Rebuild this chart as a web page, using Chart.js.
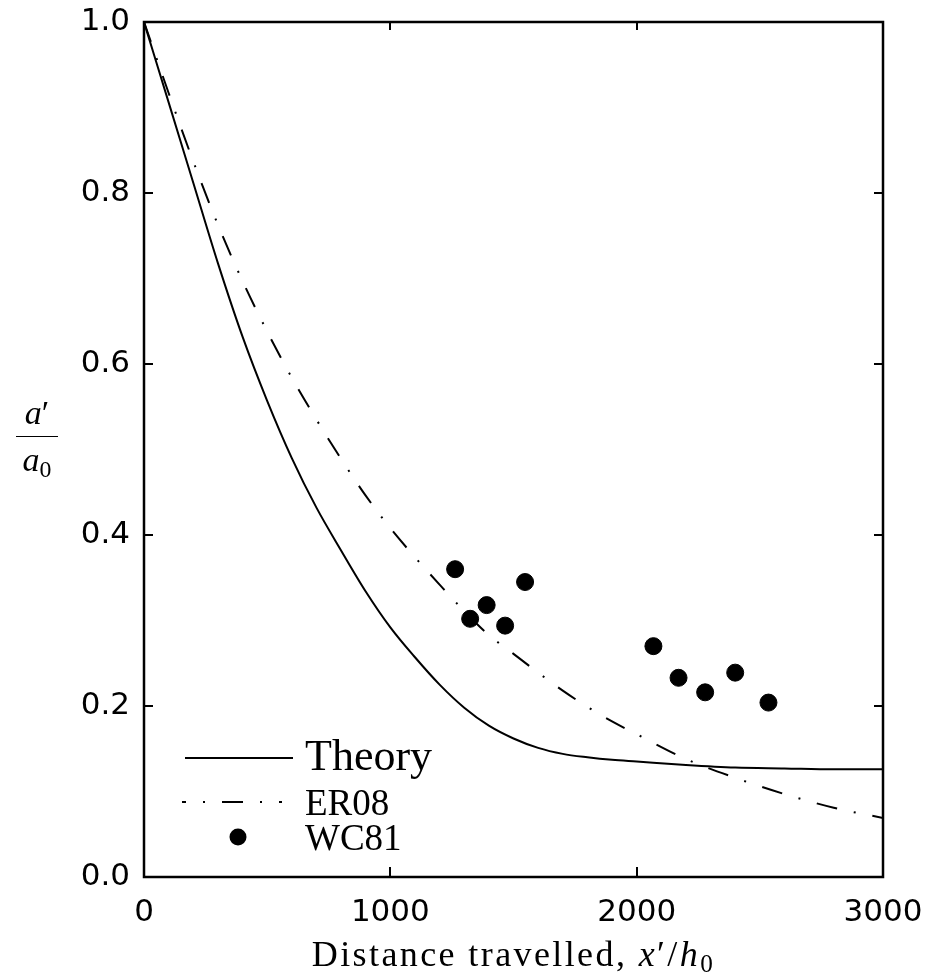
<!DOCTYPE html>
<html>
<head>
<meta charset="utf-8">
<script src="https://cdn.jsdelivr.net/npm/chart.js@4/dist/chart.umd.min.js"></script>
<style>
  html, body { margin: 0; padding: 0; background: #fff; }
  #wrap { position: relative; width: 931px; height: 980px; }
  canvas { position: absolute; left: 0; top: 0; }
  .ttl { position: absolute; font-family: "Liberation Serif", "DejaVu Serif", serif; color: #000; white-space: nowrap; }
  #xtitle { left: 0; width: 1027px; text-align: center; top: 933px; font-size: 36px; letter-spacing: 2.4px; }
  #yfrac { left: 16px; top: 396px; width: 42px; text-align: center; font-size: 34px; line-height: 1; }
  #yfrac .num { display: block; padding-bottom: 6px; border-bottom: 1.6px solid #000; }
  #yfrac .den { display: block; padding-top: 6px; }
  i { font-style: italic; }
  sub { font-size: 0.7em; vertical-align: -0.25em; font-style: normal; }
</style>
</head>
<body>
<div id="wrap">
  <canvas id="c" width="931" height="980"></canvas>
  <div id="yfrac" class="ttl"><span class="num"><i>a</i>′</span><span class="den"><i>a</i><sub>0</sub></span></div>
  <div id="xtitle" class="ttl">Distance travelled, <i>x</i>′/<i>h</i><sub>0</sub></div>
</div>
<script>
// ---- data ----
const curveX = [0, 100, 200, 300, 400, 500, 600, 700, 800, 900, 1000, 1100, 1200, 1300, 1400, 1500, 1600, 1700, 1800, 1900, 2000, 2200, 2400, 2600, 2800, 3000];
const theoryY = [1.0, 0.906, 0.812, 0.718, 0.632, 0.557, 0.490, 0.432, 0.382, 0.334, 0.292, 0.257, 0.225, 0.198, 0.177, 0.162, 0.151, 0.144, 0.140, 0.137, 0.135, 0.131, 0.128, 0.127, 0.126, 0.126];
const er08Y = [1.0, 0.917, 0.837, 0.763, 0.697, 0.638, 0.584, 0.535, 0.489, 0.446, 0.408, 0.374, 0.342, 0.311, 0.283, 0.261, 0.239, 0.218, 0.199, 0.182, 0.167, 0.138, 0.116, 0.097, 0.081, 0.069];
const wc81X = [1263, 1547, 1391, 1324, 1466, 2068, 2170, 2278, 2400, 2535];
const wc81Y = [0.360, 0.345, 0.318, 0.302, 0.294, 0.270, 0.233, 0.216, 0.239, 0.204];
const xTickValues = [0, 1000, 2000, 3000];
const yTickValues = [0, 0.2, 0.4, 0.6, 0.8, 1.0];
const seriesNames = ["Theory", "ER08", "WC81"];

const ER08_DASH = [21, 17, 2, 17];

const framePlugin = {
  id: 'frame',
  afterDatasetsDraw(chart) {
    const ctx = chart.ctx;
    const a = chart.chartArea;
    const xs = chart.scales.x, ys = chart.scales.y;
    ctx.save();
    ctx.strokeStyle = '#000';
    ctx.lineWidth = 2.5;
    ctx.strokeRect(a.left, a.top, a.right - a.left, a.bottom - a.top);
    ctx.lineWidth = 2;
    ctx.beginPath();
    yTickValues.slice(1, -1).forEach(v => {
      const p = Math.round(ys.getPixelForValue(v));
      ctx.moveTo(a.left, p); ctx.lineTo(a.left + 9, p);
      ctx.moveTo(a.right, p); ctx.lineTo(a.right - 9, p);
    });
    xTickValues.slice(1, -1).forEach(v => {
      const p = Math.round(xs.getPixelForValue(v));
      ctx.moveTo(p, a.bottom); ctx.lineTo(p, a.bottom - 10);
      ctx.moveTo(p, a.top); ctx.lineTo(p, a.top + 8);
    });
    ctx.stroke();

    // legend
    const lx0 = a.left + 41, lx1 = a.left + 149, tx = a.left + 161;
    ctx.fillStyle = '#000';
    ctx.textBaseline = 'alphabetic';
    ctx.textAlign = 'left';
    ctx.lineWidth = 2;
    ctx.setLineDash([]);
    ctx.beginPath();
    ctx.moveTo(lx0, a.top + 736); ctx.lineTo(lx1, a.top + 736);
    ctx.stroke();
    ctx.font = '44px "Liberation Serif"';
    ctx.fillText(seriesNames[0], tx, a.top + 748);
    ctx.setLineDash(ER08_DASH);
    ctx.lineDashOffset = 17;
    ctx.beginPath();
    ctx.moveTo(a.left + 38, a.top + 780); ctx.lineTo(a.left + 138, a.top + 780);
    ctx.stroke();
    ctx.setLineDash([]);
    ctx.font = '37px "Liberation Serif"';
    ctx.fillText(seriesNames[1], tx, a.top + 793);
    ctx.beginPath();
    ctx.arc(a.left + 94, a.top + 815, 8.5, 0, Math.PI * 2);
    ctx.fill();
    ctx.fillText(seriesNames[2], tx, a.top + 828);
    ctx.restore();
  }
};

function noPad(s) { s.paddingTop = 0; s.paddingBottom = 0; s.paddingLeft = 0; s.paddingRight = 0; }

new Chart(document.getElementById('c'), {
  type: 'scatter',
  data: {
    datasets: [
      {
        label: seriesNames[0],
        data: curveX.map((x, i) => ({ x, y: theoryY[i] })),
        showLine: true, borderColor: '#000', borderWidth: 2,
        pointRadius: 0, cubicInterpolationMode: 'monotone', fill: false
      },
      {
        label: seriesNames[1],
        data: curveX.map((x, i) => ({ x, y: er08Y[i] })),
        showLine: true, borderColor: '#000', borderWidth: 2, borderDash: ER08_DASH,
        pointRadius: 0, cubicInterpolationMode: 'monotone', fill: false
      },
      {
        label: seriesNames[2],
        data: wc81X.map((x, i) => ({ x, y: wc81Y[i] })),
        showLine: false, backgroundColor: '#000', borderColor: '#000',
        pointRadius: 8.5, pointHoverRadius: 8.5
      }
    ]
  },
  options: {
    responsive: false,
    animation: false,
    devicePixelRatio: 1,
    layout: { padding: { left: 0, top: 22, right: 48, bottom: 0 } },
    plugins: { legend: { display: false }, tooltip: { enabled: false } },
    scales: {
      x: {
        type: 'linear', min: 0, max: 3000,
        afterBuildTicks: s => { s.ticks = xTickValues.map(v => ({ value: v })); },
        afterFit: s => { s.height = 103; noPad(s); },
        grid: { display: false, drawTicks: false },
        border: { display: false },
        ticks: { color: '#000', font: { family: '"DejaVu Sans"', size: 31 }, padding: 17, maxRotation: 0, callback: v => String(v) }
      },
      y: {
        type: 'linear', min: 0, max: 1,
        afterBuildTicks: s => { s.ticks = yTickValues.map(v => ({ value: v })); },
        afterFit: s => { s.width = 144; noPad(s); },
        grid: { display: false, drawTicks: false },
        border: { display: false },
        ticks: { color: '#000', font: { family: '"DejaVu Sans"', size: 31 }, padding: 14, callback: v => v.toFixed(1) }
      }
    }
  },
  plugins: [framePlugin]
});
</script>
</body>
</html>
